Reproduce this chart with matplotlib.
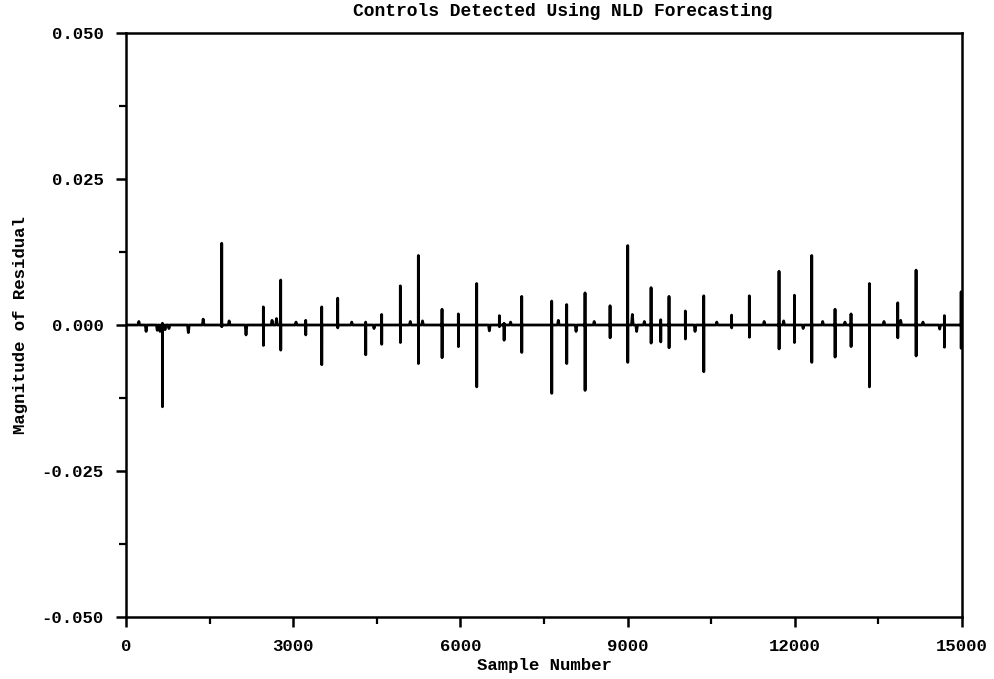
import matplotlib
matplotlib.use("Agg")
import matplotlib.pyplot as plt
from matplotlib.ticker import MultipleLocator, FormatStrFormatter

# Residual events: sample index, positive excursion, negative excursion (x 1e-3)
spike_sample = [652, 1717, 2464, 2775, 3224, 3511, 3798, 4300, 4587, 4922,
                5245, 5670, 5963, 6292, 6699, 6783, 7100, 7638, 7907, 8236,
                8685, 9002, 9421, 9594, 9743, 10036, 10366, 10866, 11184, 11717,
                11993, 12304, 12722, 13009, 13338, 13847, 14176, 14684, 14985]
spike_high = [0.3, 14.0, 3.1, 7.7, 0.8, 3.1, 4.6, 0.5, 1.8, 6.7,
              11.9, 2.7, 1.9, 7.1, 1.6, 0.3, 4.9, 4.1, 3.5, 5.5,
              3.3, 13.6, 6.4, 0.9, 4.9, 2.4, 5.0, 1.7, 5.0, 9.2,
              5.1, 11.9, 2.7, 1.9, 7.1, 3.8, 9.4, 1.6, 5.7]
spike_low = [-14.0, -0.3, -3.5, -4.3, -1.7, -6.8, -0.5, -5.1, -3.3, -3.0,
             -6.6, -5.6, -3.7, -10.6, -0.3, -2.6, -4.7, -11.7, -6.6, -11.2,
             -2.2, -6.4, -3.1, -2.9, -3.9, -2.4, -8.0, -0.5, -2.1, -4.1,
             -3.0, -6.4, -5.5, -3.7, -10.6, -2.2, -5.3, -3.8, -4.0]

# Small residual blips along the baseline (x 1e-3)
blip_sample = [230, 360, 560, 610, 700, 770, 1118, 1384, 1850, 2153,
               2620, 2700, 3050, 4050, 4450, 5100, 5320, 6519, 6900, 7757,
               8075, 8400, 9085, 9162, 9300, 10210, 10600, 11450, 11800, 12150,
               12500, 12900, 13600, 13900, 14300, 14600]
blip_value = [0.6, -1.1, -0.9, -1.1, -0.8, -0.6, -1.3, 1.0, 0.7, -1.7,
              0.8, 1.1, 0.5, 0.5, -0.6, 0.6, 0.7, -1.0, 0.5, 0.8,
              -1.1, 0.6, 1.8, -1.1, 0.6, -1.1, 0.5, 0.6, 0.7, -0.6,
              0.6, 0.5, 0.6, 0.8, 0.5, -0.7]

x_ticks = [0, 3000, 6000, 9000, 12000, 15000]
y_ticks = [-0.050, -0.025, 0.000, 0.025, 0.050]

# Build the residual trace from the events
events = []
for s, h, l in zip(spike_sample, spike_high, spike_low):
    events.append((s, [(s - 1, 0.0), (s, h), (s + 1, l), (s + 2, 0.0)]))
for s, v in zip(blip_sample, blip_value):
    events.append((s, [(s - 15, 0.0), (s, v), (s + 15, 0.0)]))
events.sort(key=lambda e: e[0])
xs, ys = [0], [0.0]
for _, pts in events:
    for px, py in pts:
        xs.append(px)
        ys.append(py * 1e-3)
xs.append(15000)
ys.append(0.0)

font = "Liberation Mono"
plt.rcParams["font.family"] = [font, "DejaVu Sans Mono"]
plt.rcParams["font.weight"] = "bold"

fig = plt.figure(figsize=(9.94, 6.79), dpi=100)
ax = fig.add_axes([0.1268, 0.0913, 0.8410, 0.8601])

ax.plot(xs, ys, color="black", linewidth=2.0, solid_joinstyle="round")

ax.set_xlim(0, 15000)
ax.set_ylim(-0.05, 0.05)
ax.set_xticks(x_ticks)
ax.set_yticks(y_ticks)
ax.xaxis.set_minor_locator(MultipleLocator(1500))
ax.yaxis.set_minor_locator(MultipleLocator(0.0125))
ax.yaxis.set_major_formatter(FormatStrFormatter("%.3f"))
ax.tick_params(which="major", direction="out", length=7, width=1.8,
               labelsize=12.5, pad=9, top=False, right=False)
ax.tick_params(which="minor", direction="out", length=5, width=1.6,
               top=False, right=False)
for lab in ax.get_xticklabels() + ax.get_yticklabels():
    lab.set_fontweight("bold")
for sp in ax.spines.values():
    sp.set_linewidth(1.8)

ax.set_xlabel("Sample Number", fontsize=12.5, fontweight="bold", labelpad=3)
ax.set_ylabel("Magnitude of Residual", fontsize=12.5, fontweight="bold", labelpad=10)
fig.text(563 / 994, 1 - 12 / 679, "Controls Detected Using NLD Forecasting",
         ha="center", va="center", fontsize=13, fontweight="bold")

fig.savefig("out.png", dpi=100)
